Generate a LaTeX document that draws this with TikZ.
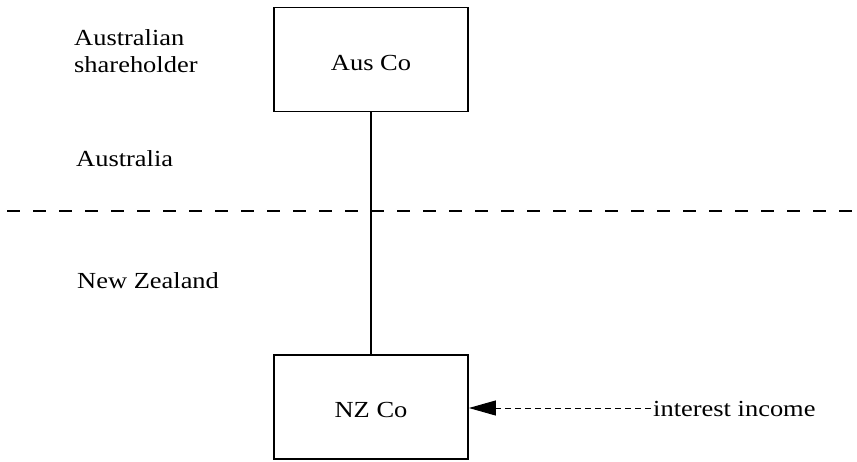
\documentclass[tikz,border=0pt]{standalone}
\usepackage{fontspec}
\setmainfont{Liberation Serif}[FakeStretch=1.15]
\usetikzlibrary{arrows.meta}

\tikzset{
  company/.style={draw, line width=1.8pt, minimum width=194pt, minimum height=104pt,
    inner sep=0pt, text height=21pt, text depth=0pt},
  caption/.style={anchor=base west, inner sep=0pt, align=left},
  border/.style={line width=1.8pt, dash pattern=on 13pt off 13pt},
  link/.style={line width=1.2pt},
  flow/.style={line width=1pt, dash pattern=on 6pt off 4pt,
    -{Triangle[length=27pt,width=15pt]}}
}

\begin{document}
\begin{tikzpicture}[x=1pt, y=-1pt, font=\fontsize{23}{27}\selectfont]
  \useasboundingbox (0,0) rectangle (857,461);

  % the two companies
  \node[company] (aus) at (371,59.5) {Aus Co};
  \node[company] (nz)  at (371,407)  {NZ Co};

  % ownership link
  \draw[link] (aus.south) -- (nz.north);

  % national border
  \coordinate (bl) at (7,211);
  \coordinate (br) at (857,211);
  \draw[border] (bl) -- (br);

  % side captions (base of a two-line caption is its last line)
  \node[caption] (holder) at (74,72) {Australian\\shareholder};
  \node[caption] (au) at (76,166) {Australia};
  \node[caption] (nzl) at (77,288) {New Zealand};

  % interest flow into NZ Co
  \node[caption] (inc) at (653,416) {interest income};
  \coordinate (flowstart) at (651,408);
  \draw[flow] (flowstart) -- (nz.east |- flowstart);
\end{tikzpicture}
\end{document}
